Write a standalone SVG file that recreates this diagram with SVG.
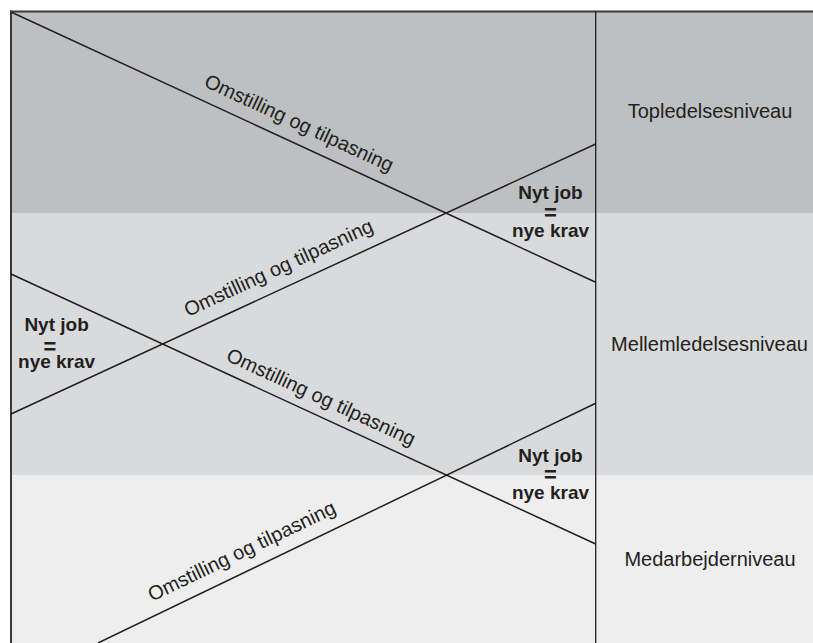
<svg xmlns="http://www.w3.org/2000/svg" width="813" height="643" viewBox="0 0 813 643">
<style>
.band-top{fill:#bebfc1}
.band-mid{fill:#d9dadc}
.band-low{fill:#eeeeef}
.frame{stroke:#3a3a3a;stroke-width:2;fill:none}
.divider{stroke:#231f20;stroke-width:1.3;fill:none}
.conn{stroke:#231f20;stroke-width:1.5;fill:none}
.lbl{font-family:"Liberation Sans",Arial,sans-serif;font-size:20px;fill:#231f20}
.job{font-family:"Liberation Sans",Arial,sans-serif;font-size:19px;font-weight:bold;fill:#231f20;text-anchor:middle}
.eq{font-family:"Liberation Sans",Arial,sans-serif;font-size:22px;font-weight:bold;fill:#231f20;text-anchor:middle}
.level{font-family:"Liberation Sans",Arial,sans-serif;font-size:20px;fill:#231f20;text-anchor:middle}
</style>
<g id="bands">
<rect class="band-top" x="11" y="11" width="802" height="202.5"/>
<rect class="band-mid" x="11" y="213.5" width="802" height="261.5"/>
<rect class="band-low" x="11" y="475" width="802" height="168"/>
</g>
<g id="frame">
<line class="frame" x1="10" y1="11.5" x2="813" y2="11.5"/>
<line class="frame" x1="11" y1="10.5" x2="11" y2="643"/>
<line class="divider" x1="595.7" y1="11" x2="595.7" y2="643"/>
</g>
<g id="connectors">
<line class="conn" x1="11" y1="12" x2="595.7" y2="282.3"/>
<line class="conn" x1="11" y1="414" x2="595.7" y2="144"/>
<line class="conn" x1="11" y1="274" x2="595.7" y2="544"/>
<line class="conn" x1="595.7" y1="403.3" x2="98" y2="643"/>
<text class="lbl" transform="translate(203,86) rotate(24.8)">Omstilling og tilpasning</text>
<text class="lbl" transform="translate(188,317) rotate(-24.8)">Omstilling og tilpasning</text>
<text class="lbl" transform="translate(225,360) rotate(24.8)">Omstilling og tilpasning</text>
<text class="lbl" transform="translate(152,601.7) rotate(-25.7)">Omstilling og tilpasning</text>
</g>
<g id="job-top">
<text class="job" x="550.5" y="199">Nyt job</text>
<text class="eq" x="550.5" y="220">=</text>
<text class="job" x="550.5" y="236.7">nye krav</text>
</g>
<g id="job-left">
<text class="job" x="56.6" y="330.7">Nyt job</text>
<text class="eq" x="50" y="353.5">=</text>
<text class="job" x="56.6" y="368.3">nye krav</text>
</g>
<g id="job-bottom">
<text class="job" x="550.5" y="461.7">Nyt job</text>
<text class="eq" x="550.5" y="481.5">=</text>
<text class="job" x="550.5" y="499">nye krav</text>
</g>
<g id="level-top"><text class="level" x="710" y="118.3">Topledelsesniveau</text></g>
<g id="level-mid"><text class="level" x="709.5" y="350.5">Mellemledelsesniveau</text></g>
<g id="level-low"><text class="level" x="710" y="565.5">Medarbejderniveau</text></g>
</svg>
